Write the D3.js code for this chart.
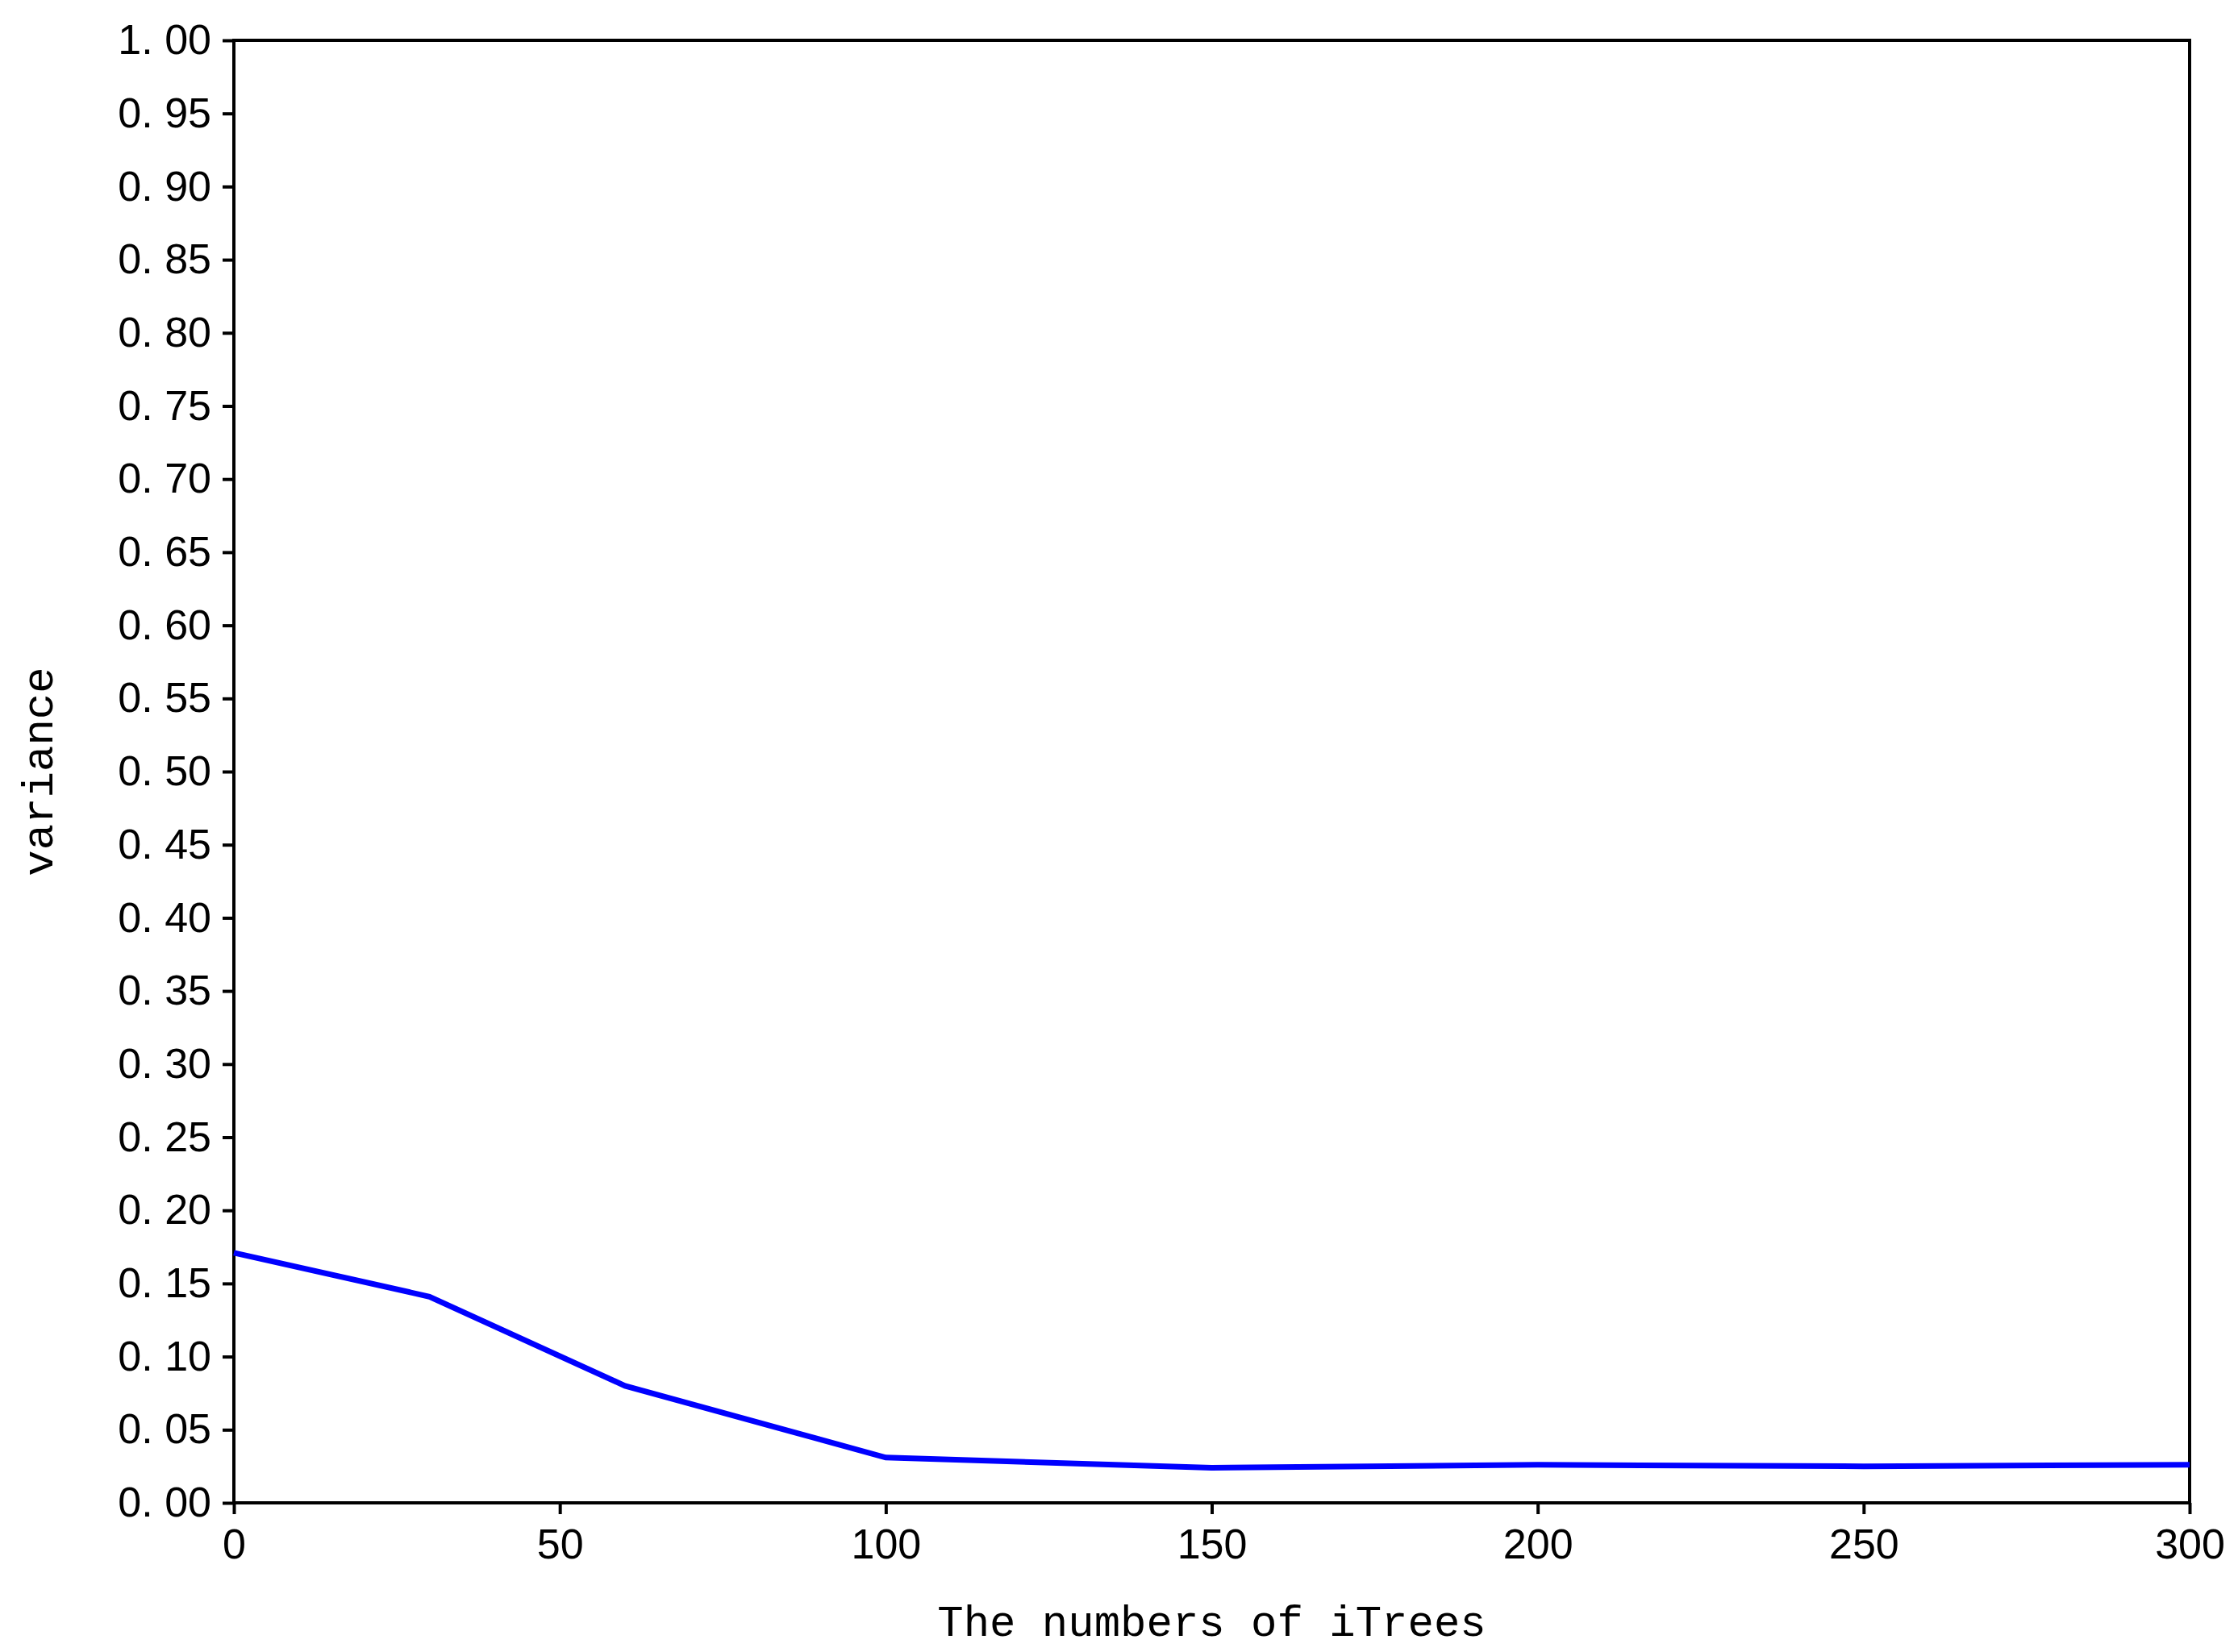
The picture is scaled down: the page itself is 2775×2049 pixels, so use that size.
<!DOCTYPE html>
<html><head><meta charset="utf-8">
<script src="https://cdn.jsdelivr.net/npm/d3@7"></script>
<style>body{margin:0;background:#fff}</style>
</head><body><div id="chart"></div>
<script>
var xValues = [0, 30, 60, 100, 150, 200, 250, 300];
var variance = [0.171, 0.141, 0.080, 0.031, 0.024, 0.026, 0.025, 0.026];
var xTicks = [0, 50, 100, 150, 200, 250, 300];
var yTicks = d3.range(0, 21).map(function(i) { return i * 0.05; });

var svgWidth = 2775, svgHeight = 2049;
var margin = {top: 50, right: 60, bottom: 185, left: 290};
var width = svgWidth - margin.left - margin.right;
var height = svgHeight - margin.top - margin.bottom;
var font = '"Liberation Sans Narrow", "Liberation Sans", sans-serif';

var svg = d3.select('#chart').append('svg')
    .attr('width', svgWidth).attr('height', svgHeight);
var g = svg.append('g').attr('transform', `translate(${margin.left}, ${margin.top})`);

var x = d3.scaleLinear().domain([0, 300]).range([0, width]);
var y = d3.scaleLinear().domain([0, 1]).range([height, 0]);

var xAxis = g.append('g').attr('transform', `translate(0, ${height})`)
    .call(d3.axisBottom(x).tickValues(xTicks).tickSize(14).tickPadding(18));
var yAxis = g.append('g')
    .call(d3.axisLeft(y).tickValues(yTicks).tickSize(14).tickPadding(14)
        .tickFormat(function(d) { return d3.format('.2f')(d).replace('.', '. '); }));
[xAxis, yAxis].forEach(function(a) {
    a.selectAll('text').style('font-family', font).style('font-size', '52px').attr('fill', '#000');
    a.selectAll('line').attr('stroke-width', 4);
    a.select('.domain').remove();
});

g.append('rect').attr('width', width).attr('height', height)
    .attr('fill', 'none').attr('stroke', '#000').attr('stroke-width', 4);

var line = d3.line().x(function(d, i) { return x(xValues[i]); }).y(function(d) { return y(d); });
g.append('path').datum(variance).attr('d', line)
    .attr('fill', 'none').attr('stroke', '#0000ff').attr('stroke-width', 7);

g.append('text').attr('x', width / 2).attr('y', height + 165)
    .attr('text-anchor', 'middle').style('font-family', '"Liberation Mono", monospace')
    .style('font-size', '54px').text('The numbers of iTrees');
g.append('text').attr('transform', 'rotate(-90)').attr('x', -height / 2).attr('y', -225)
    .attr('text-anchor', 'middle').style('font-family', '"Liberation Mono", monospace')
    .style('font-size', '54px').text('variance');
</script></body></html>
